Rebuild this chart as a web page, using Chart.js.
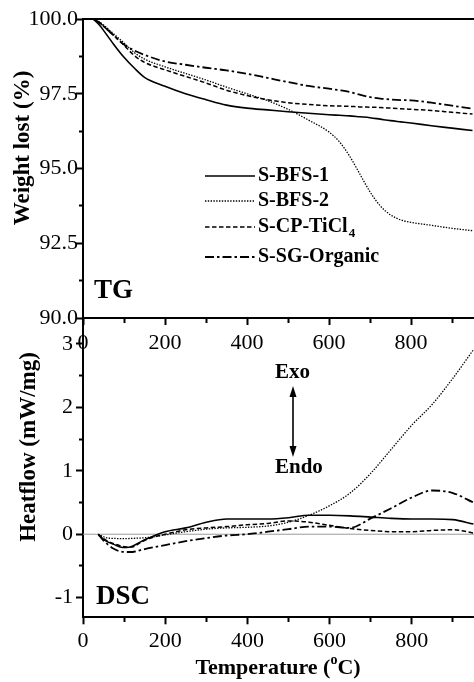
<!DOCTYPE html>
<html>
<head>
<meta charset="utf-8">
<script src="https://cdn.jsdelivr.net/npm/chart.js@4.4.1/dist/chart.umd.min.js"></script>
<style>
html, body { margin: 0; padding: 0; background: #fff; overflow: hidden; }
#wrap { position: relative; width: 474px; height: 682px; overflow: hidden; }
canvas { position: absolute; left: 0; }
#tg { top: 0; }
#dsc { top: 300px; }
</style>
</head>
<body>
<div id="wrap">
  <canvas id="dsc" width="498" height="382"></canvas>
  <canvas id="tg" width="498" height="360"></canvas>
</div>
<script>
'use strict';

// ******* DATA *********
let seriesNames = ['S-BFS-1', 'S-BFS-2', 'S-CP-TiCl4', 'S-SG-Organic'];

// TG panel (weight %)
let tgTemp = [25, 40, 50, 75, 100, 125, 150, 200, 250, 300, 350, 400, 450, 500, 550, 600, 625, 650, 675, 700, 725, 750, 775, 800, 850, 900, 950];
let tgBfs1 = [100, 99.8, 99.62, 99.15, 98.72, 98.36, 98.05, 97.75, 97.5, 97.3, 97.12, 97.02, 96.96, 96.9, 96.85, 96.8, 96.78, 96.76, 96.73, 96.7, 96.65, 96.6, 96.56, 96.52, 96.43, 96.35, 96.27];
let tgBfs2 = [100, 99.9, 99.8, 99.5, 99.2, 98.88, 98.66, 98.4, 98.18, 97.96, 97.72, 97.5, 97.27, 96.98, 96.62, 96.22, 95.9, 95.42, 94.82, 94.22, 93.75, 93.45, 93.28, 93.2, 93.1, 93.0, 92.92];
let tgCp = [100, 99.88, 99.76, 99.45, 99.12, 98.78, 98.55, 98.3, 98.08, 97.86, 97.62, 97.44, 97.3, 97.2, 97.14, 97.1, 97.09, 97.08, 97.06, 97.05, 97.04, 97.02, 97.0, 96.98, 96.94, 96.88, 96.82];
let tgSg = [100, 99.88, 99.76, 99.45, 99.15, 98.95, 98.8, 98.58, 98.47, 98.37, 98.28, 98.17, 98.03, 97.89, 97.76, 97.67, 97.62, 97.56, 97.47, 97.39, 97.34, 97.31, 97.29, 97.28, 97.2, 97.1, 97.0];

// DSC panel (mW/mg)
let dscTemp = [37, 50, 60, 75, 90, 105, 120, 140, 160, 200, 250, 300, 350, 400, 450, 500, 550, 600, 650, 700, 750, 800, 850, 900, 950];
let dscBfs1 = [0, -0.08, -0.12, -0.16, -0.2, -0.21, -0.19, -0.12, -0.06, 0.04, 0.1, 0.19, 0.24, 0.24, 0.24, 0.26, 0.3, 0.3, 0.29, 0.27, 0.25, 0.24, 0.24, 0.23, 0.16];
let dscBfs2 = [0, -0.04, -0.06, -0.065, -0.07, -0.07, -0.065, -0.06, -0.05, -0.01, 0.04, 0.08, 0.1, 0.11, 0.13, 0.19, 0.3, 0.45, 0.65, 0.96, 1.34, 1.72, 2.05, 2.46, 2.91];
let dscCp = [0, -0.07, -0.11, -0.15, -0.18, -0.2, -0.2, -0.13, -0.07, 0.0, 0.07, 0.1, 0.12, 0.15, 0.17, 0.21, 0.19, 0.14, 0.09, 0.06, 0.04, 0.04, 0.06, 0.07, 0.02];
let dscSg = [0, -0.1, -0.16, -0.23, -0.27, -0.28, -0.28, -0.25, -0.22, -0.17, -0.11, -0.06, -0.02, 0.0, 0.04, 0.08, 0.12, 0.12, 0.1, 0.25, 0.41, 0.58, 0.69, 0.65, 0.5];

// axis ranges and tick steps (minor step, labelled step)
let xMin = 0, xMax = 1000, xStep = 100, xLabelStep = 200, xLastLabel = 800;
let tgMin = 90, tgMax = 100, tgStep = 1.25, tgLabelStep = 2.5;
let dscMin = -1.31, dscMax = 3.41, dscStep = 0.5, dscLabelStep = 1;

// ******* STYLES ********
let serif = "'Liberation Serif', 'Times New Roman', serif";
let lineStyles = [
  { width: 1.6, dash: [] },
  { width: 1.3, dash: [1.4, 1.4] },
  { width: 1.5, dash: [4.5, 2.5] },
  { width: 1.8, dash: [9, 3, 2.5, 3] }
];

// ******* HELPERS ********
function toPoints(xs, ys) {
  let pts = [];
  for (let i = 0; i < xs.length; i++) {
    pts.push({ x: xs[i], y: ys[i] });
  }
  return pts;
}

function makeDatasets(xs, seriesList) {
  return seriesList.map((ys, i) => ({
    label: seriesNames[i],
    data: toPoints(xs, ys),
    borderColor: '#000',
    borderWidth: lineStyles[i].width,
    borderDash: lineStyles[i].dash,
    pointRadius: 0,
    fill: false,
    cubicInterpolationMode: 'monotone'
  }));
}

function isMajor(v, step) {
  return Math.abs(v / step - Math.round(v / step)) < 1e-6;
}

// tick marks drawn by the library; minor ones shortened with a dash pattern
function tickGrid(labelStep, minorDash) {
  return {
    display: true,
    drawOnChartArea: false,
    drawTicks: true,
    tickLength: 7,
    tickWidth: 2,
    tickColor: '#000',
    tickBorderDash: c => (c.tick && !isMajor(c.tick.value, labelStep)) ? minorDash : []
  };
}

function xScale(axisHeight, pad) {
  return {
    type: 'linear', min: xMin, max: xMax,
    grid: tickGrid(xLabelStep, [4, 30]),
    border: { display: true, color: '#000', width: 2 },
    ticks: {
      stepSize: xStep, autoSkip: false, maxRotation: 0, padding: pad, color: '#000',
      font: { family: serif, size: 22 },
      callback: v => (isMajor(v, xLabelStep) && v <= xLastLabel) ? String(v) : ''
    },
    afterFit: s => { s.height = axisHeight; }
  };
}

// grey zero line under the curves, top frame line over everything
let framePlugin = {
  id: 'frame',
  beforeDatasetsDraw(chart, args, opts) {
    if (!opts.zeroLine) return;
    let ctx = chart.ctx;
    let a = chart.chartArea;
    let yz = chart.scales.y.getPixelForValue(0);
    ctx.save();
    ctx.strokeStyle = '#9a9a9a';
    ctx.lineWidth = 1;
    ctx.beginPath();
    ctx.moveTo(a.left, yz);
    ctx.lineTo(a.right, yz);
    ctx.stroke();
    ctx.restore();
  },
  afterDraw(chart) {
    let ctx = chart.ctx;
    let a = chart.chartArea;
    ctx.save();
    ctx.setLineDash([]);
    ctx.strokeStyle = '#000';
    ctx.lineWidth = 2;
    ctx.beginPath();
    ctx.moveTo(a.left - 1, a.top);
    ctx.lineTo(a.right, a.top);
    ctx.stroke();
    ctx.restore();
  }
};

function drawText(ctx, txt, x, y, size, align) {
  ctx.font = 'bold ' + size + 'px ' + serif;
  ctx.textAlign = align || 'left';
  ctx.textBaseline = 'middle';
  ctx.fillText(txt, x, y);
}

let tgTextPlugin = {
  id: 'tgText',
  afterDraw(chart) {
    let ctx = chart.ctx;
    ctx.save();
    ctx.fillStyle = '#000';
    // y title
    ctx.save();
    ctx.translate(23, 148);
    ctx.rotate(-Math.PI / 2);
    drawText(ctx, 'Weight lost (%)', 0, 0, 23, 'center');
    ctx.restore();
    drawText(ctx, 'TG', 94, 291, 27);

    // legend
    let rows = [176, 201, 227, 257];
    chart.data.datasets.forEach((ds, i) => {
      ctx.strokeStyle = '#000';
      ctx.lineWidth = ds.borderWidth;
      ctx.setLineDash(ds.borderDash);
      ctx.beginPath();
      ctx.moveTo(205, rows[i]);
      ctx.lineTo(255, rows[i]);
      ctx.stroke();
      ctx.setLineDash([]);
      let name = ds.label;
      if (name === 'S-CP-TiCl4') {
        drawText(ctx, 'S-CP-TiCl', 258, rows[i], 20);
        let w = ctx.measureText('S-CP-TiCl').width;
        drawText(ctx, '4', 258 + w + 1, rows[i] + 7, 13);
      } else {
        drawText(ctx, name, 258, rows[i], 20);
      }
    });
    ctx.restore();
  }
};

let dscTextPlugin = {
  id: 'dscText',
  afterDraw(chart) {
    let ctx = chart.ctx;
    ctx.save();
    ctx.fillStyle = '#000';
    ctx.strokeStyle = '#000';
    ctx.save();
    ctx.translate(29, 147);
    ctx.rotate(-Math.PI / 2);
    drawText(ctx, 'Heatflow (mW/mg)', 0, 0, 23, 'center');
    ctx.restore();
    drawText(ctx, 'DSC', 96, 297, 27);
    drawText(ctx, 'Exo', 275, 73, 21);
    drawText(ctx, 'Endo', 275, 168, 21);

    // double arrow
    let ax = 293, top = 86, bot = 157;
    ctx.lineWidth = 1.6;
    ctx.beginPath();
    ctx.moveTo(ax, top + 6);
    ctx.lineTo(ax, bot - 6);
    ctx.stroke();
    ctx.beginPath();
    ctx.moveTo(ax, top); ctx.lineTo(ax - 3.5, top + 11); ctx.lineTo(ax + 3.5, top + 11); ctx.closePath();
    ctx.fill();
    ctx.beginPath();
    ctx.moveTo(ax, bot); ctx.lineTo(ax - 3.5, bot - 11); ctx.lineTo(ax + 3.5, bot - 11); ctx.closePath();
    ctx.fill();

    // x title with superscript o
    let y = 368;
    ctx.font = 'bold 22px ' + serif;
    let p1 = 'Temperature (', p3 = 'C)';
    let w1 = ctx.measureText(p1).width;
    let w3 = ctx.measureText(p3).width;
    ctx.font = 'bold 14px ' + serif;
    let w2 = ctx.measureText('o').width;
    let x0 = 278 - (w1 + w2 + w3) / 2;
    drawText(ctx, p1, x0, y, 22);
    drawText(ctx, 'o', x0 + w1, y - 8, 14);
    drawText(ctx, p3, x0 + w1 + w2, y, 22);
    ctx.restore();
  }
};

// ******* CHARTS ********
new Chart(document.getElementById('tg'), { //eslint-disable-line
  type: 'line',
  data: { datasets: makeDatasets(tgTemp, [tgBfs1, tgBfs2, tgCp, tgSg]) },
  options: {
    responsive: false,
    animation: false,
    layout: { padding: { top: 19, left: 0, right: 0, bottom: 0 } },
    plugins: { legend: { display: false }, tooltip: { enabled: false }, frame: { zeroLine: false } },
    scales: {
      x: xScale(42, 5),
      y: {
        type: 'linear', min: tgMin, max: tgMax,
        grid: tickGrid(tgLabelStep, [0, 3, 30, 0]),
        border: { display: true, color: '#000', width: 2 },
        ticks: {
          stepSize: tgStep, padding: -2, color: '#000',
          font: { family: serif, size: 22 },
          callback: v => isMajor(v, tgLabelStep) ? v.toFixed(1) : ''
        },
        afterFit: s => { s.width = 83; }
      }
    }
  },
  plugins: [framePlugin, tgTextPlugin]
});

new Chart(document.getElementById('dsc'), { //eslint-disable-line
  type: 'line',
  data: { datasets: makeDatasets(dscTemp, [dscBfs1, dscBfs2, dscCp, dscSg]) },
  options: {
    responsive: false,
    animation: false,
    layout: { padding: { top: 18, left: 0, right: 0, bottom: 0 } },
    plugins: { legend: { display: false }, tooltip: { enabled: false }, frame: { zeroLine: true } },
    scales: {
      x: xScale(64.7, 4),
      y: {
        type: 'linear', min: dscMin, max: dscMax,
        grid: tickGrid(dscLabelStep, [0, 3, 30, 0]),
        border: { display: true, color: '#000', width: 2 },
        ticks: {
          stepSize: dscStep, includeBounds: false, padding: 3, color: '#000',
          font: { family: serif, size: 22 },
          callback: v => isMajor(v, dscLabelStep) ? String(Math.round(v)) : ''
        },
        afterFit: s => { s.width = 83; }
      }
    }
  },
  plugins: [framePlugin, dscTextPlugin]
});
</script>
</body>
</html>
